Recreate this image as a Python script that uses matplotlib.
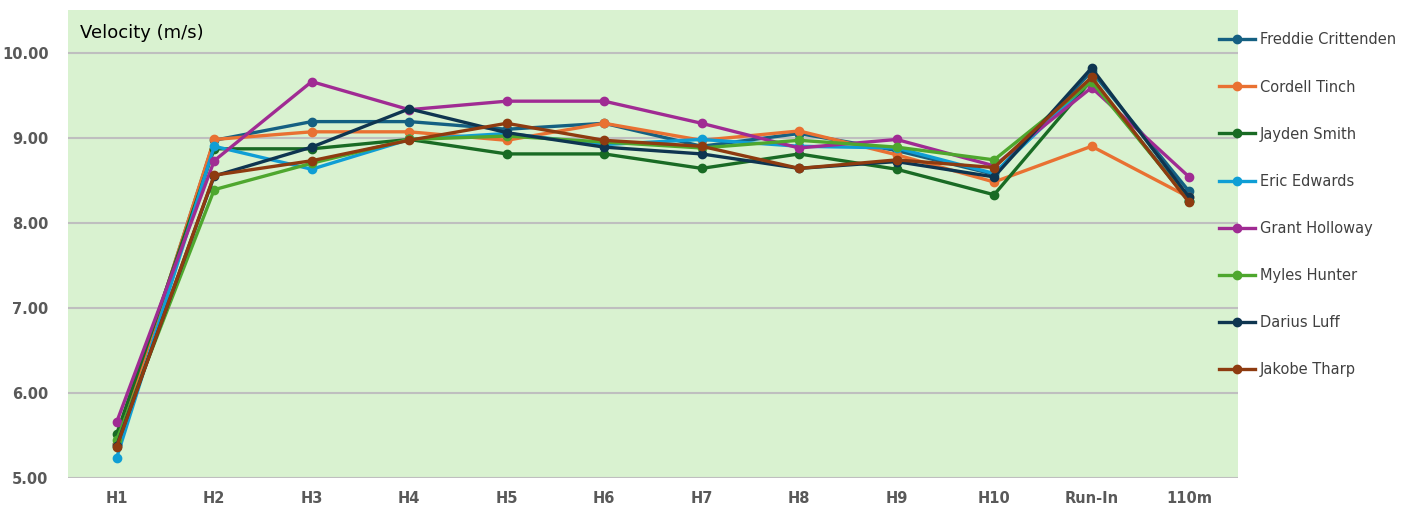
import matplotlib.pyplot as plt

hurdles = ["H1", "H2", "H3", "H4", "H5", "H6", "H7", "H8", "H9", "H10", "Run-In", "110m"]

freddie = [5.40, 8.97, 9.19, 9.19, 9.10, 9.17, 8.90, 9.05, 8.85, 8.57, 9.78, 8.37]
cordell = [5.40, 8.98, 9.07, 9.07, 8.97, 9.17, 8.97, 9.08, 8.80, 8.48, 8.90, 8.30]
jayden = [5.52, 8.87, 8.87, 8.98, 8.81, 8.81, 8.64, 8.81, 8.63, 8.33, 9.68, 8.26]
eric = [5.24, 8.90, 8.63, 8.98, 9.05, 8.92, 8.98, 8.90, 8.88, 8.58, 9.68, 8.26]
grant = [5.66, 8.73, 9.66, 9.33, 9.43, 9.43, 9.17, 8.88, 8.98, 8.67, 9.59, 8.54]
myles = [5.45, 8.39, 8.70, 8.98, 9.02, 8.95, 8.88, 8.97, 8.89, 8.74, 9.66, 8.26]
darius = [5.38, 8.55, 8.89, 9.34, 9.06, 8.89, 8.81, 8.64, 8.72, 8.54, 9.82, 8.30]
jakobe = [5.37, 8.56, 8.73, 8.97, 9.17, 8.97, 8.90, 8.64, 8.74, 8.65, 9.71, 8.24]

athletes = ["Freddie Crittenden", "Cordell Tinch", "Jayden Smith", "Eric Edwards",
            "Grant Holloway", "Myles Hunter", "Darius Luff", "Jakobe Tharp"]
series = [freddie, cordell, jayden, eric, grant, myles, darius, jakobe]
colors = ["#156082", "#E97132", "#196B24", "#0F9ED5",
          "#A02B93", "#4EA72E", "#0E3550", "#8E3B10"]

fig = plt.figure(figsize=(14.05, 5.08), dpi=100)
ax = fig.add_axes([0.0484, 0.059, 0.8326, 0.921])
ax.set_facecolor("#D9F2D0")

x = list(range(len(hurdles)))
for name, vals, c in zip(athletes, series, colors):
    ax.plot(x, vals, color=c, lw=2.4, marker="o", ms=6, label=name)

ax.set_xlim(-0.5, len(hurdles) - 0.5)
ax.set_ylim(5.0, 10.5)
ax.set_yticks([5, 6, 7, 8, 9, 10])
ax.set_yticklabels(["%.2f" % v for v in [5, 6, 7, 8, 9, 10]])
ax.set_xticks(x)
ax.set_xticklabels(hurdles)
ax.grid(axis="y", color="#BFBFBF", lw=1.5)
ax.set_axisbelow(True)
for s in ax.spines.values():
    s.set_visible(False)
ax.tick_params(length=0, labelsize=10.5, labelcolor="#595959")
ax.tick_params(axis="y", pad=14)
ax.tick_params(axis="x", pad=9)
for lbl in ax.get_xticklabels() + ax.get_yticklabels():
    lbl.set_fontweight("bold")

ax.text(0.01, 0.97, "Velocity (m/s)", transform=ax.transAxes, fontsize=13,
        va="top", ha="left", color="black")

fig.legend(loc="upper left", bbox_to_anchor=(0.858, 0.962), frameon=False,
           fontsize=10.5, labelspacing=2.2, handlelength=2.5, handletextpad=0.35,
           labelcolor="#404040")

plt.savefig("out.png", dpi=100)
